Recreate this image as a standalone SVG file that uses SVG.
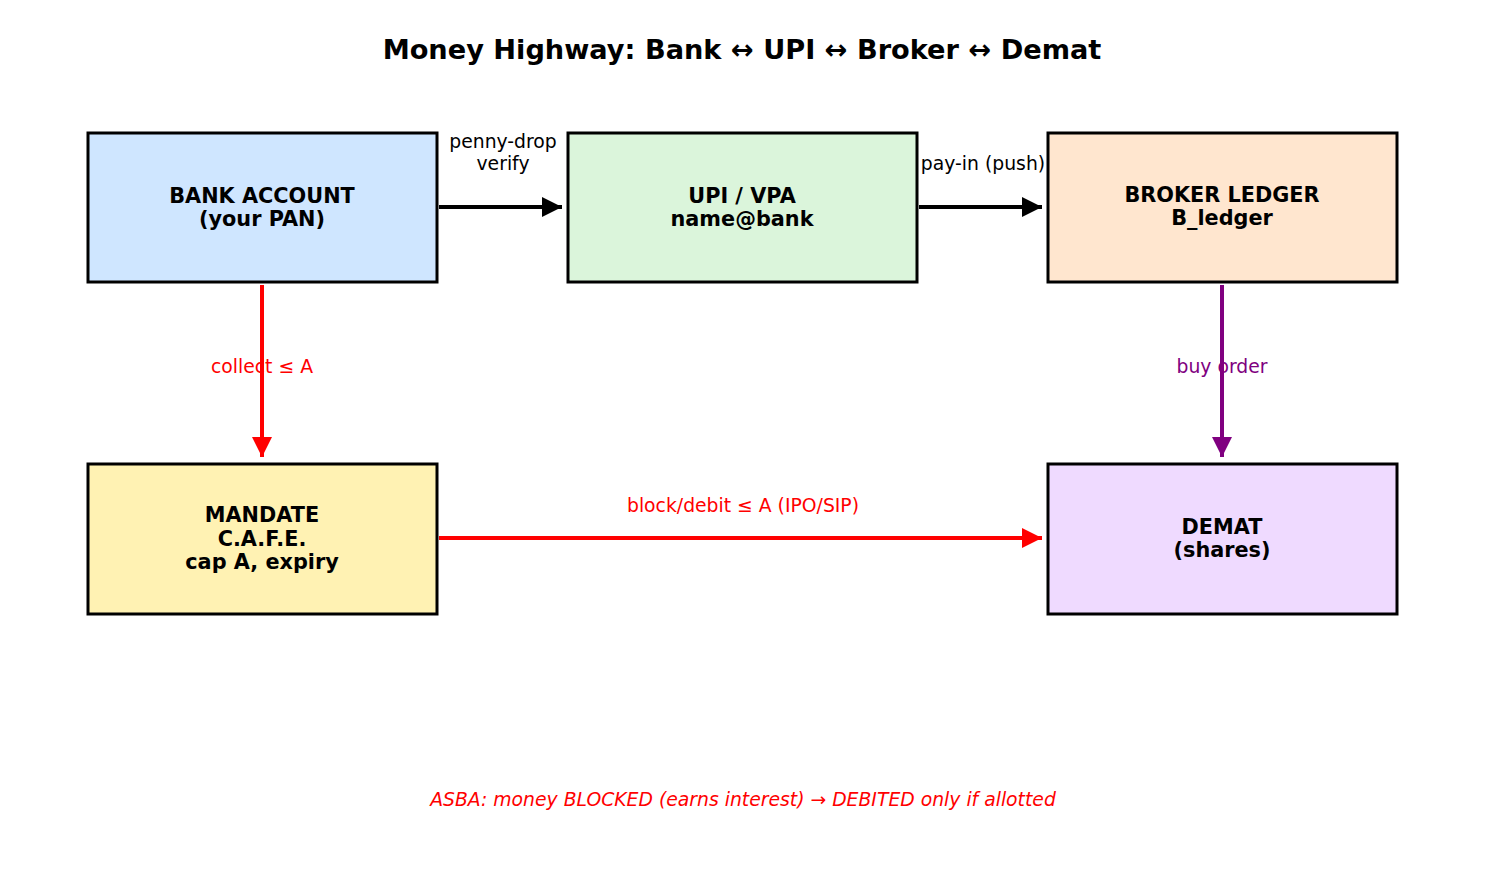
<svg xmlns="http://www.w3.org/2000/svg" width="1485" height="885" viewBox="0 0 1485 885">
<style>
.box{stroke:#000;stroke-width:3}
.nt{font-family:"DejaVu Sans",sans-serif;font-weight:bold;font-size:20.8px;text-anchor:middle;fill:#000}
.lb{font-family:"DejaVu Sans",sans-serif;font-size:18.8px;text-anchor:middle}
.ln{fill:none;stroke-width:4}
</style>
<defs>
<marker id="ab" markerUnits="userSpaceOnUse" markerWidth="22" markerHeight="22" refX="20" refY="10" orient="auto"><path d="M0,0 L20,10 L0,20 Z" fill="#000"/></marker>
<marker id="ar" markerUnits="userSpaceOnUse" markerWidth="22" markerHeight="22" refX="20" refY="10" orient="auto"><path d="M0,0 L20,10 L0,20 Z" fill="#ff0000"/></marker>
<marker id="ap" markerUnits="userSpaceOnUse" markerWidth="22" markerHeight="22" refX="20" refY="10" orient="auto"><path d="M0,0 L20,10 L0,20 Z" fill="#800080"/></marker>
</defs>
<rect width="1485" height="885" fill="#fff"/>
<text x="742" y="59" font-family="DejaVu Sans, sans-serif" font-weight="bold" font-size="27.2px" text-anchor="middle">Money Highway: Bank ↔ UPI ↔ Broker ↔ Demat</text>
<g id="bank"><rect class="box" x="88" y="133" width="349" height="149" fill="#cfe6ff"/><text class="nt" x="262" y="203">BANK ACCOUNT</text><text class="nt" x="262" y="226">(your PAN)</text></g>
<g id="upi"><rect class="box" x="568" y="133" width="349" height="149" fill="#dbf5db"/><text class="nt" x="742" y="203">UPI / VPA</text><text class="nt" x="742" y="226">name@bank</text></g>
<g id="broker"><rect class="box" x="1048" y="133" width="349" height="149" fill="#ffe6cf"/><text class="nt" x="1222" y="202">BROKER LEDGER</text><text class="nt" x="1222" y="225">B_ledger</text></g>
<g id="mandate"><rect class="box" x="88" y="464" width="349" height="150" fill="#fff2b3"/><text class="nt" x="262" y="522">MANDATE</text><text class="nt" x="262" y="546">C.A.F.E.</text><text class="nt" x="262" y="569">cap A, expiry</text></g>
<g id="demat"><rect class="box" x="1048" y="464" width="349" height="150" fill="#efdaff"/><text class="nt" x="1222" y="534">DEMAT</text><text class="nt" x="1222" y="557">(shares)</text></g>
<g id="labels">
<text class="lb" x="503" y="148" fill="#000">penny-drop</text>
<text class="lb" x="503" y="170" fill="#000">verify</text>
<text class="lb" x="983" y="170" fill="#000">pay-in (push)</text>
<text class="lb" x="262" y="373" fill="#ff0000">collect ≤ A</text>
<text class="lb" x="1222" y="373" fill="#800080">buy order</text>
<text class="lb" x="743" y="512" fill="#ff0000">block/debit ≤ A (IPO/SIP)</text>
</g>
<g id="connectors">
<line class="ln" x1="439" y1="207" x2="562" y2="207" stroke="#000" marker-end="url(#ab)"/>
<line class="ln" x1="919" y1="207" x2="1042" y2="207" stroke="#000" marker-end="url(#ab)"/>
<line class="ln" x1="262" y1="285" x2="262" y2="457" stroke="#ff0000" marker-end="url(#ar)"/>
<line class="ln" x1="1222" y1="285" x2="1222" y2="457" stroke="#800080" marker-end="url(#ap)"/>
<line class="ln" x1="439" y1="538" x2="1042" y2="538" stroke="#ff0000" marker-end="url(#ar)"/>
</g>
<text x="743" y="806" font-family="DejaVu Sans, sans-serif" font-style="italic" font-size="18.8px" text-anchor="middle" fill="#ff0000">ASBA: money BLOCKED (earns interest) → DEBITED only if allotted</text>
</svg>
